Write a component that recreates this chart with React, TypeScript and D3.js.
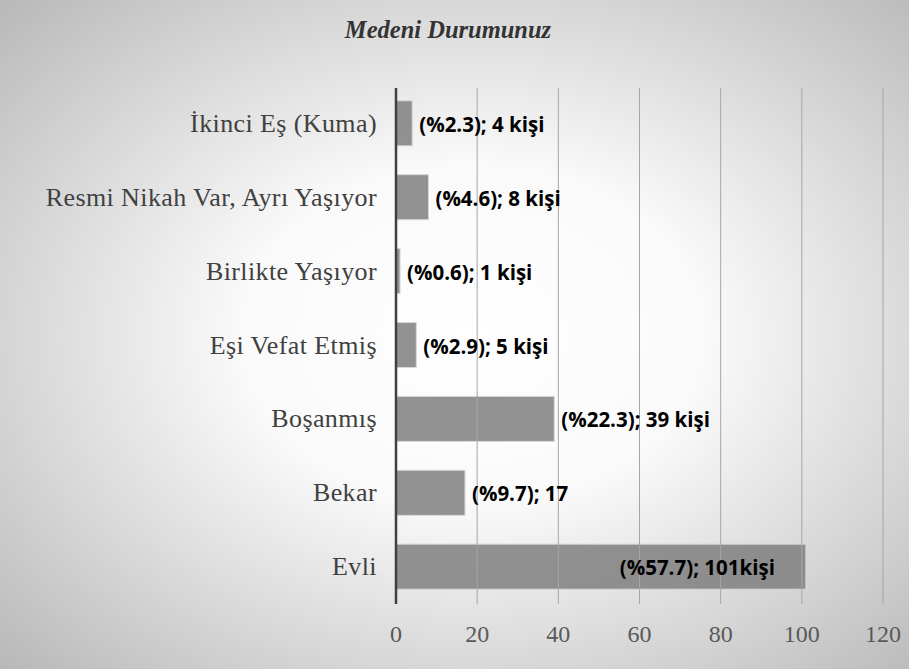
import React from 'react';
import * as d3 from 'd3';

const categories = ['İkinci Eş (Kuma)', 'Resmi Nikah Var, Ayrı Yaşıyor', 'Birlikte Yaşıyor', 'Eşi Vefat Etmiş', 'Boşanmış', 'Bekar', 'Evli'];
const counts = [4, 8, 1, 5, 39, 17, 101];
const labels = ['(%2.3); 4 kişi', '(%4.6); 8 kişi', '(%0.6); 1 kişi', '(%2.9); 5 kişi', '(%22.3); 39 kişi', '(%9.7); 17', '(%57.7); 101kişi'];
const ticks = [0, 20, 40, 60, 80, 100, 120];

const W = 909;
const H = 669;
const margin = { top: 86, right: 26, bottom: 65, left: 396 };

const App: React.FC = () => {
  const x = d3.scaleLinear().domain([0, 120]).range([margin.left, W - margin.right]);
  const y = d3.scaleBand<string>().domain(categories).range([margin.top, H - margin.bottom]).paddingInner(0.39).paddingOuter(0.2);
  const bw = y.bandwidth();
  const serif = '"Liberation Serif", "Times New Roman", serif';
  const sans = '"Open Sans", "Noto Sans", sans-serif';
  return (
    <svg width={W} height={H} style={{ position: 'absolute', left: 0, top: 0 }}>
      <defs>
        <radialGradient id="bg" cx="0.52" cy="0.5" r="0.72">
          <stop offset="0" stopColor="#ffffff" />
          <stop offset="0.35" stopColor="#fafafa" />
          <stop offset="1" stopColor="#b8b8b8" />
        </radialGradient>
      </defs>
      <rect x={0} y={0} width={W} height={H} fill="url(#bg)" />
      <text x={448} y={38} textAnchor="middle" fontFamily={serif} fontStyle="italic" fontWeight="bold" fontSize={24.5} fill="#333">Medeni Durumunuz</text>
      {/* bars */}
      {categories.map((c, i) => (
        <rect key={c} x={x(0)} y={y(c)} width={x(counts[i]) - x(0)} height={bw} fill="#7f7f7f" fillOpacity={0.85} stroke="#d9d9d9" strokeWidth={1} />
      ))}
      {/* gridlines */}
      {ticks.slice(1).map(t => (
        <line key={t} x1={x(t)} x2={x(t)} y1={margin.top + 2} y2={H - margin.bottom} stroke="#a6a6a6" strokeWidth={1} />
      ))}
      <line x1={x(0)} x2={x(0)} y1={margin.top + 2} y2={H - margin.bottom} stroke="#404040" strokeWidth={2.5} />
      {/* tick labels */}
      {ticks.map(t => (
        <text key={t} x={x(t)} y={642} textAnchor="middle" fontFamily={serif} fontSize={24} fill="#595959">{t}</text>
      ))}
      {/* category labels */}
      {categories.map(c => (
        <text key={c} x={377} y={(y(c) ?? 0) + bw / 2 + 8.5} textAnchor="end" fontFamily={serif} fontSize={26} letterSpacing={0.4} fill="#404040">{c}</text>
      ))}
      {/* data labels */}
      {categories.map((c, i) => {
        const inside = counts[i] > 60;
        return (
          <text key={c} x={inside ? x(counts[i]) - 31 : x(counts[i]) + 7} y={(y(c) ?? 0) + bw / 2 + 8.5} textAnchor={inside ? 'end' : 'start'} fontFamily={sans} fontWeight="bold" fontSize={20.5} fill="#000">{labels[i]}</text>
        );
      })}
    </svg>
  );
};

export default App;
